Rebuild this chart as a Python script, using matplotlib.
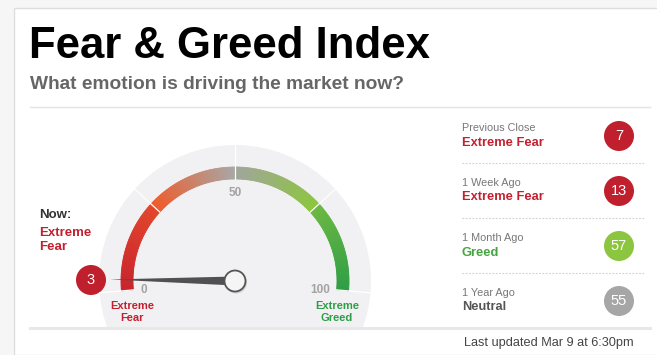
import numpy as np
import matplotlib
matplotlib.use("Agg")
import matplotlib.pyplot as plt
from matplotlib.patches import Wedge, Circle, Polygon, Rectangle
from matplotlib.colors import to_rgb

plt.rcParams['font.family'] = ['Liberation Sans', 'DejaVu Sans']

# data
now_value = 3
now_label = "Extreme Fear"
band_edges = [0, 25, 50, 75, 100]
band_colors = [("#c8232c", "#e2452c"), ("#f05a2a", "#a9a6a3"),
               ("#a1a59c", "#8cc63e"), ("#6cb842", "#2e9e46")]
tick_values = [0, 50, 100]
history_labels = ["Previous Close", "1 Week Ago", "1 Month Ago", "1 Year Ago"]
history_values = [7, 13, 57, 55]
history_status = ["Extreme Fear", "Extreme Fear", "Greed", "Neutral"]
status_colors = {"Extreme Fear": "#c4202f", "Greed": "#45a53f", "Neutral": "#555555"}
badge_colors = {"Extreme Fear": "#c01f2e", "Greed": "#8cc53f", "Neutral": "#a6a6a6"}

W, H = 657, 355
fig = plt.figure(figsize=(W / 100, H / 100), dpi=100)
fig.patch.set_facecolor("#f6f6f6")
ax = fig.add_axes([0, 0, 1, 1])
ax.set_xlim(0, W)
ax.set_ylim(0, H)
ax.axis("off")


def Y(y):
    return H - y


# page panel
ax.add_patch(Rectangle((14, 0), W, Y(8), facecolor="white", edgecolor="#dedede", lw=1))

ax.text(29, Y(46), "Fear & Greed Index", fontsize=31.5, fontweight="bold", color="black", va="center")
ax.text(30, Y(84.5), "What emotion is driving the market now?", fontsize=13.8, fontweight="bold",
        color="#666666", va="center")
ax.plot([30, 650], [Y(107), Y(107)], color="#e4e4e4", lw=1)

# gauge
cx, cy = 235, Y(281)
r_bg, r_out, r_in = 136, 114, 102


def ang(v):
    return 185 - v * 1.9


bg = Circle((cx, cy), r_bg, facecolor="#f1f1f3", edgecolor="none")
ax.add_patch(bg)
clip = Rectangle((0, Y(327)), W, H, transform=ax.transData)
bg.set_clip_path(clip)

for (v0, v1), (c0, c1) in zip(zip(band_edges[:-1], band_edges[1:]), band_colors):
    n = 40
    c0, c1 = np.array(to_rgb(c0)), np.array(to_rgb(c1))
    vs = np.linspace(v0, v1, n + 1)
    for i in range(n):
        t = i / (n - 1)
        col = c0 * (1 - t) + c1 * t
        ax.add_patch(Wedge((cx, cy), r_out, ang(vs[i + 1]), ang(vs[i]),
                           width=r_out - r_in, facecolor=col, edgecolor=col, lw=0.6))

for v in band_edges:
    a = np.radians(ang(v))
    ax.plot([cx + r_in * np.cos(a), cx + r_bg * np.cos(a)],
            [cy + r_in * np.sin(a), cy + r_bg * np.sin(a)], color="white", lw=0.9)

tick_pos = {0: (144, 290), 50: (235, 193), 100: (320, 290)}
for v in tick_values:
    x, y = tick_pos[v]
    ax.text(x, Y(y), str(v), fontsize=8.5, fontweight="bold", color="#a3a3a3", ha="center", va="center")

ax.text(132, Y(306), "Extreme", fontsize=8, fontweight="bold", color="#c4202f", ha="center", va="center")
ax.text(132, Y(318), "Fear", fontsize=8, fontweight="bold", color="#c4202f", ha="center", va="center")
ax.text(337, Y(306), "Extreme", fontsize=8, fontweight="bold", color="#2e9e46", ha="center", va="center")
ax.text(337, Y(318), "Greed", fontsize=8, fontweight="bold", color="#2e9e46", ha="center", va="center")

# needle
a = np.radians(ang(now_value))
tip = (cx + 125 * np.cos(a), cy + 125 * np.sin(a))
perp = np.array([-np.sin(a), np.cos(a)])
base1 = np.array([cx, cy]) + perp * 4.5
base2 = np.array([cx, cy]) - perp * 4.5
ax.add_patch(Polygon([tip, base1, base2], closed=True, facecolor="#505050", edgecolor="none"))
ax.add_patch(Circle((cx + 1, cy - 1.5), 11, facecolor="#bdbdbd", edgecolor="none", alpha=0.6))
ax.add_patch(Circle((cx, cy), 10.5, facecolor="#f5f5f5", edgecolor="#555555", lw=1.3))

# current value badge
ax.add_patch(Circle((91, Y(280)), 15, facecolor=badge_colors[now_label], edgecolor="none"))
ax.text(91, Y(280), str(now_value), fontsize=10.5, color="white", ha="center", va="center")

ax.text(39, Y(215.5), "Now:", fontsize=9.5, fontweight="bold", color="#333333", va="center")
ax.text(39, Y(232.5), "Extreme", fontsize=9.5, fontweight="bold", color="#c4202f", va="center")
ax.text(39, Y(247.5), "Fear", fontsize=9.5, fontweight="bold", color="#c4202f", va="center")

# history panel
row_top = [128, 183, 238, 293]
for i, (lab, val, st) in enumerate(zip(history_labels, history_values, history_status)):
    y0 = row_top[i]
    ax.text(462, Y(y0), lab, fontsize=7.8, color="#777777", va="center")
    ax.text(462, Y(y0 + 14.5), st, fontsize=9.3, fontweight="bold", color=status_colors[st], va="center")
    ax.add_patch(Circle((619, Y(y0 + 8)), 15, facecolor=badge_colors[st], edgecolor="none"))
    ax.text(619, Y(y0 + 8), str(val), fontsize=10.5, color="white", ha="center", va="center")
    if i < 3:
        ax.plot([462, 645], [Y(y0 + 35), Y(y0 + 35)], color="#cfcfcf", lw=0.8,
                linestyle=(0, (1.5, 1.5)))

ax.plot([30, 650], [Y(328), Y(328)], color="#e8e8e8", lw=2.2)
ax.text(634, Y(343), "Last updated Mar 9 at 6:30pm", fontsize=9.2, color="#444444", ha="right", va="center")

fig.savefig("out.png", dpi=100, facecolor=fig.get_facecolor())
